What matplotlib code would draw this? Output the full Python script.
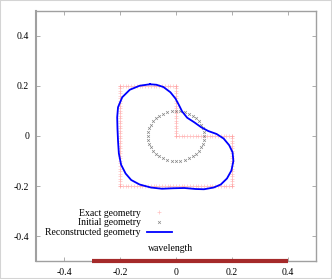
import matplotlib
matplotlib.use("Agg")
import matplotlib.pyplot as plt
from matplotlib.patches import Rectangle

# sample positions along the exact L-shaped boundary
grid = [-0.20, -0.19, -0.18, -0.17, -0.16, -0.15, -0.14, -0.13, -0.12, -0.11,
        -0.10, -0.09, -0.08, -0.07, -0.06, -0.05, -0.04, -0.03, -0.02, -0.01,
        0.00, 0.01, 0.02, 0.03, 0.04, 0.05, 0.06, 0.07, 0.08, 0.09,
        0.10, 0.11, 0.12, 0.13, 0.14, 0.15, 0.16, 0.17, 0.18, 0.19, 0.20]

# initial geometry (circle of radius 0.1)
init_x = [0.100, 0.099, 0.095, 0.089, 0.081, 0.071, 0.059, 0.045, 0.031, 0.016,
          0.000, -0.016, -0.031, -0.045, -0.059, -0.071, -0.081, -0.089, -0.095, -0.099,
          -0.100, -0.099, -0.095, -0.089, -0.081, -0.071, -0.059, -0.045, -0.031, -0.016,
          0.000, 0.016, 0.031, 0.045, 0.059, 0.071, 0.081, 0.089, 0.095, 0.099]
init_y = [0.000, 0.016, 0.031, 0.045, 0.059, 0.071, 0.081, 0.089, 0.095, 0.099,
          0.100, 0.099, 0.095, 0.089, 0.081, 0.071, 0.059, 0.045, 0.031, 0.016,
          0.000, -0.016, -0.031, -0.045, -0.059, -0.071, -0.081, -0.089, -0.095, -0.099,
          -0.100, -0.099, -0.095, -0.089, -0.081, -0.071, -0.059, -0.045, -0.031, -0.016]

# reconstructed geometry
rec_x = [-0.093, -0.130, -0.165, -0.192, -0.207, -0.210, -0.209, -0.207, -0.204, -0.196,
         -0.180, -0.160, -0.130, -0.090, -0.050, -0.010, 0.030, 0.070, 0.100, 0.135,
         0.160, 0.182, 0.198, 0.205, 0.202, 0.190, 0.170, 0.145, 0.115, 0.090,
         0.065, 0.040, 0.022, 0.010, -0.002, -0.020, -0.045, -0.070, -0.093]
rec_y = [0.207, 0.201, 0.185, 0.155, 0.115, 0.075, 0.030, -0.020, -0.070, -0.115,
         -0.150, -0.176, -0.194, -0.206, -0.211, -0.209, -0.208, -0.212, -0.213, -0.206,
         -0.194, -0.170, -0.138, -0.100, -0.065, -0.037, -0.010, 0.008, 0.020, 0.035,
         0.055, 0.073, 0.098, 0.125, 0.150, 0.175, 0.196, 0.205, 0.207]

wave_x = [-0.3, 0.4]
wave_y = [-0.5, -0.5]

ticks = [-0.4, -0.2, 0.0, 0.2, 0.4]
tick_labels = ["-0.4", "-0.2", "0", "0.2", "0.4"]


def exactGeometry():
    xs, ys = [], []
    for g in grid:
        xs += [g, -0.2]
        ys += [-0.2, g]
        if g <= 0:
            xs += [g, 0.2]
            ys += [0.2, g]
        if g >= 0:
            xs += [g, 0.0]
            ys += [0.0, g]
    return xs, ys


plt.rcParams['font.family'] = ['Liberation Serif', 'DejaVu Serif']
plt.rcParams['font.size'] = 7

fig = plt.figure(figsize=(3.32, 2.79), dpi=100)
fig.patches.append(Rectangle((0, 0), 1, 1, transform=fig.transFigure,
                             fill=False, edgecolor='#d4d4d4', linewidth=1.5))
ax = fig.add_axes([0.1084, 0.0645, 0.8434, 0.8961])

ex, ey = exactGeometry()
ax.plot(ex, ey, linestyle='none', marker='+', markersize=2.5, markeredgewidth=0.5,
        color='#ff9090', alpha=0.55, label="Exact geometry")
ax.plot(init_x, init_y, linestyle='none', marker='x', markersize=2, markeredgewidth=0.5,
        color='#606060', alpha=0.75, label="Initial geometry")
ax.plot(rec_x, rec_y, color='#0000ff', linewidth=1.3, label="Reconstructed geometry")
ax.plot(wave_x, wave_y, color='#a52a2a', linewidth=3, clip_on=False,
        solid_capstyle='butt', zorder=5)
ax.text(-0.1, -0.45, "wavelength", ha='left', va='center')

ax.set_xlim(-0.5, 0.5)
ax.set_ylim(-0.5, 0.5)
ax.set_xticks(ticks)
ax.set_xticklabels(tick_labels)
ax.set_yticks(ticks)
ax.set_yticklabels(tick_labels)
ax.tick_params(direction='in', length=3, color='#a0a0a0', width=0.6,
               top=True, right=True, pad=5)
for s in ax.spines.values():
    s.set_color('#a0a0a0')
    s.set_linewidth(1.0)
ax.spines['left'].set_linewidth(1.5)

ax.legend(loc='upper right', bbox_to_anchor=(0.485, 0.21), frameon=False,
          markerfirst=False, borderaxespad=0, borderpad=0, handlelength=2.6,
          handletextpad=0.6, labelspacing=0.1, fontsize=7)

fig.savefig("out.png", dpi=100)
